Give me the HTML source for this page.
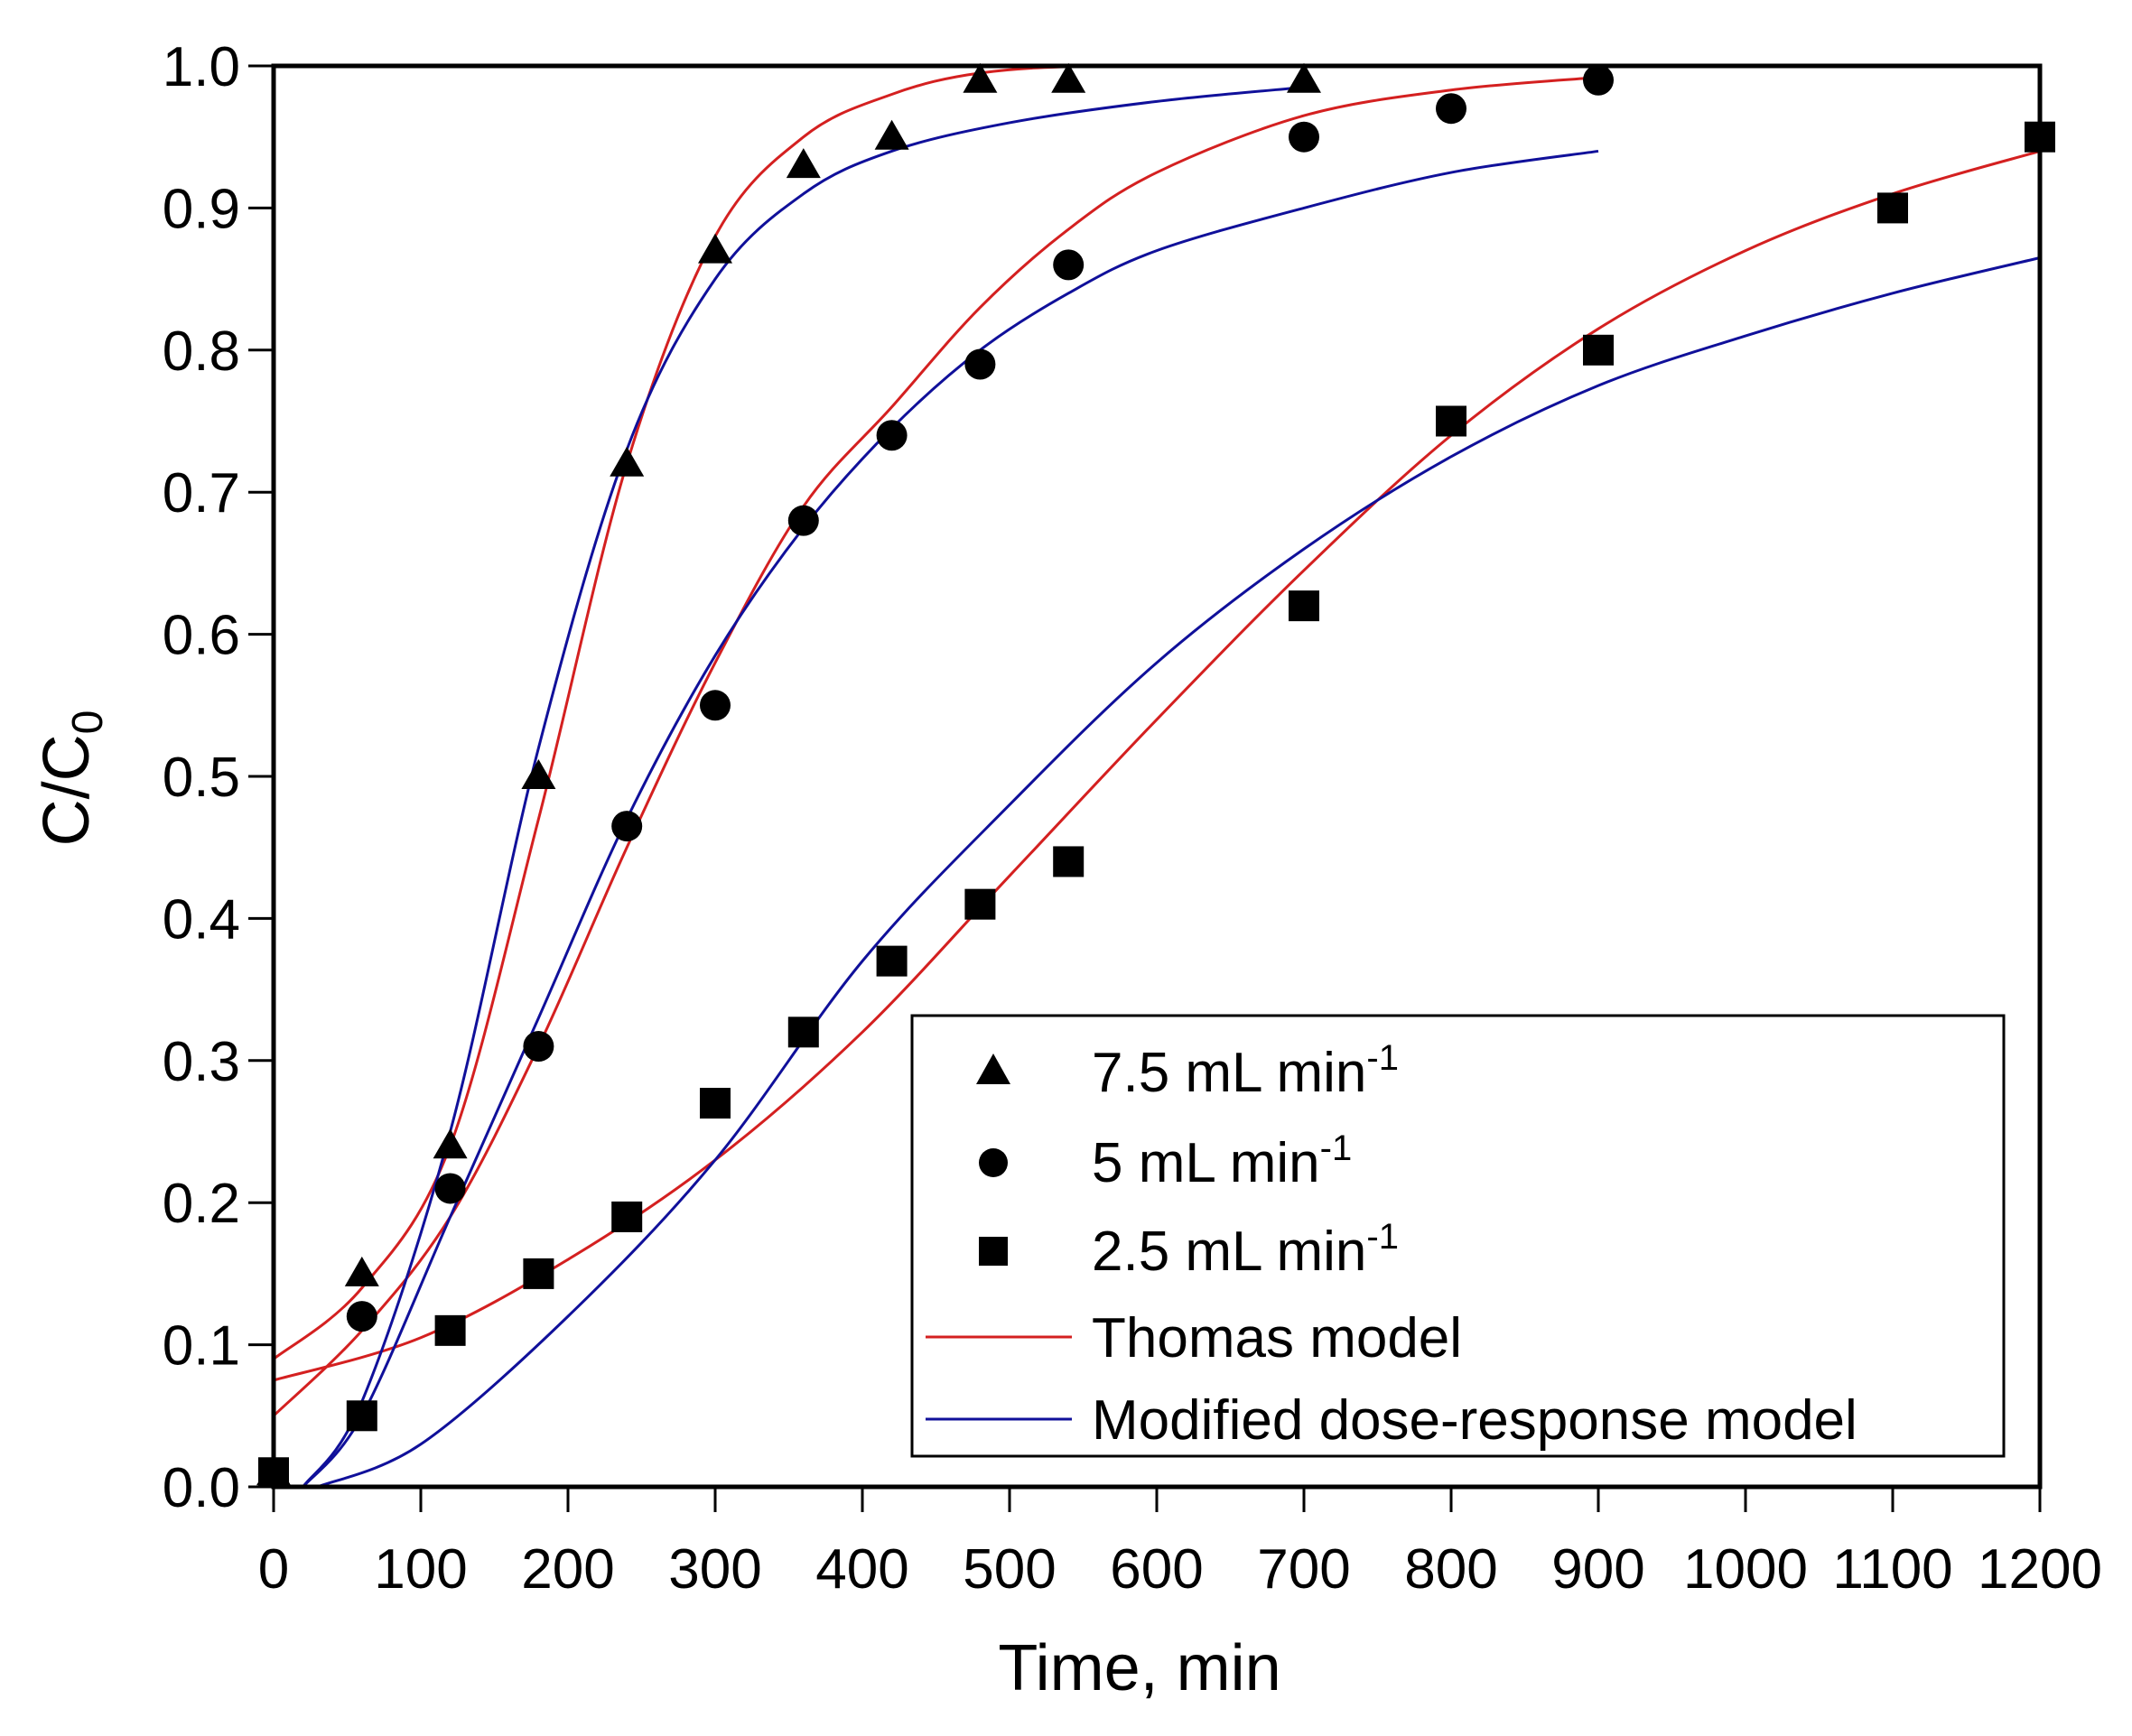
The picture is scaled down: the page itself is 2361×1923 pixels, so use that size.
<!DOCTYPE html>
<html><head><meta charset="utf-8"><style>
body{margin:0;background:#fff}
svg{display:block;font-family:"Liberation Sans",Arial,sans-serif}
</style></head><body>
<svg id="chart" width="2361" height="1923" viewBox="0 0 2361 1923">
<g id="curves"></g>
<g id="points"></g>
<rect x="303" y="73" width="1956" height="1574" fill="none" stroke="#000" stroke-width="5"/>
<g id="axes"></g>
<text x="1262" y="1872" font-size="72" text-anchor="middle">Time, min</text>
<text transform="translate(98,862) rotate(-90)" font-size="72" text-anchor="middle">C/C<tspan font-size="48" dy="15">0</tspan></text>
<g>
<rect x="1010" y="1125" width="1209" height="488" fill="#fff" stroke="#000" stroke-width="3"/>
<polygon points="1100,1167 1119,1201 1081,1201" fill="#000"/>
<text x="1209" y="1209" font-size="62">7.5 mL min<tspan font-size="40" dy="-24">-1</tspan></text>
<circle cx="1100" cy="1288" r="16" fill="#000"/>
<text x="1209" y="1309" font-size="62">5 mL min<tspan font-size="40" dy="-24">-1</tspan></text>
<rect x="1084" y="1370" width="32" height="32" fill="#000"/>
<text x="1209" y="1407" font-size="62">2.5 mL min<tspan font-size="40" dy="-24">-1</tspan></text>
<line x1="1025" y1="1481" x2="1187" y2="1481" stroke="#d42020" stroke-width="3"/>
<text x="1209" y="1503" font-size="62">Thomas model</text>
<line x1="1025" y1="1572" x2="1187" y2="1572" stroke="#10109a" stroke-width="3"/>
<text x="1209" y="1594" font-size="62">Modified dose-response model</text>
</g>
</svg>
<script>
const xTicks=[0,100,200,300,400,500,600,700,800,900,1000,1100,1200];
const yTicks=[0,0.1,0.2,0.3,0.4,0.5,0.6,0.7,0.8,0.9,1.0];
const triX=[0,60,120,180,240,300,360,420,480,540,700];
const triY=[0.01,0.15,0.24,0.50,0.72,0.87,0.93,0.95,0.99,0.99,0.99];
const cirX=[60,120,180,240,300,360,420,480,540,700,800,900];
const cirY=[0.12,0.21,0.31,0.465,0.55,0.68,0.74,0.79,0.86,0.95,0.97,0.99];
const sqX=[0,60,120,180,240,300,360,420,480,540,700,800,900,1100,1200];
const sqY=[0.01,0.05,0.11,0.15,0.19,0.27,0.32,0.37,0.41,0.44,0.62,0.75,0.80,0.90,0.95];
const th75X=[0,60,120,180,240,300,360,420,480,560,700];
const th75Y=[0.09,0.14,0.24,0.47,0.72,0.88,0.95,0.98,0.995,1.0,1.0];
const md75X=[20,60,120,180,240,300,360,420,500,600,700];
const md75Y=[0,0.06,0.25,0.52,0.73,0.85,0.91,0.94,0.96,0.975,0.985];
const th5X=[0,60,120,180,240,300,360,420,480,540,600,700,800,900];
const th5Y=[0.05,0.11,0.19,0.31,0.45,0.58,0.69,0.76,0.83,0.885,0.925,0.965,0.983,0.992];
const md5X=[20,60,120,180,240,300,360,420,480,540,600,700,800,900];
const md5Y=[0,0.05,0.19,0.33,0.47,0.585,0.675,0.745,0.80,0.84,0.87,0.90,0.925,0.94];
const th25X=[0,100,200,300,400,500,600,700,800,900,1000,1100,1200];
const th25Y=[0.075,0.105,0.16,0.23,0.32,0.43,0.54,0.645,0.74,0.815,0.87,0.91,0.94];
const md25X=[30,100,200,300,400,500,600,700,800,900,1000,1100,1200];
const md25Y=[0,0.03,0.12,0.23,0.37,0.48,0.58,0.66,0.725,0.775,0.81,0.84,0.865];

const NS="http://www.w3.org/2000/svg";
const L=303,R=2259,T=73,B=1647;
const sx=v=>L+(v/1200)*(R-L);
const sy=v=>B-v*(B-T);
function mk(tag,parent,attrs){const e=document.createElementNS(NS,tag);for(const k in attrs)e.setAttribute(k,attrs[k]);parent.appendChild(e);return e;}
const axes=document.getElementById('axes');
xTicks.forEach(t=>{
  const l=mk('line',axes,{x1:sx(t),x2:sx(t),y1:B,y2:B+28,stroke:'#000','stroke-width':3});
  
  
  const tx=mk('text',axes,{x:sx(t),y:1759,'font-size':62,'text-anchor':'middle'});
  tx.textContent=String(t);
  
  
});
yTicks.forEach(t=>{
  const l=mk('line',axes,{x1:L-28,x2:L,y1:sy(t),y2:sy(t),stroke:'#000','stroke-width':3});
  
  
  const tx=mk('text',axes,{x:266,y:sy(t)+22,'font-size':62,'text-anchor':'end'});
  tx.textContent=t.toFixed(1);
  
  
});
function smooth(xs,ys){
  const p=xs.map((x,i)=>[sx(x),sy(ys[i])]);
  let d='M'+p[0][0]+','+p[0][1];
  for(let i=0;i<p.length-1;i++){
    const p0=p[i-1]||p[i],p1=p[i],p2=p[i+1],p3=p[i+2]||p2;
    const c1=[p1[0]+(p2[0]-p0[0])/6,p1[1]+(p2[1]-p0[1])/6];
    const c2=[p2[0]-(p3[0]-p1[0])/6,p2[1]-(p3[1]-p1[1])/6];
    d+=` C${c1[0]},${c1[1]} ${c2[0]},${c2[1]} ${p2[0]},${p2[1]}`;
  }
  return d;
}
const cg=document.getElementById('curves');
[[th75X,th75Y,'#d42020','thomas-7-5'],[th5X,th5Y,'#d42020','thomas-5'],[th25X,th25Y,'#d42020','thomas-2-5'],
 [md75X,md75Y,'#10109a','mdr-7-5'],[md5X,md5Y,'#10109a','mdr-5'],[md25X,md25Y,'#10109a','mdr-2-5']].forEach(s=>{
  const p=mk('path',cg,{d:smooth(s[0],s[1]),fill:'none',stroke:s[2],'stroke-width':3});
  
  
});
const pg=document.getElementById('points');
triX.forEach((x,i)=>{
  const cx=sx(x),cy=sy(triY[i]);
  const e=mk('polygon',pg,{points:`${cx},${cy-19} ${cx+19},${cy+14} ${cx-19},${cy+14}`,fill:'#000'});
  
  
});
cirX.forEach((x,i)=>{
  const e=mk('circle',pg,{cx:sx(x),cy:sy(cirY[i]),r:17,fill:'#000'});
  
  
});
sqX.forEach((x,i)=>{
  const e=mk('rect',pg,{x:sx(x)-17,y:sy(sqY[i])-17,width:34,height:34,fill:'#000'});
  
  
});
</script>
</body></html>
